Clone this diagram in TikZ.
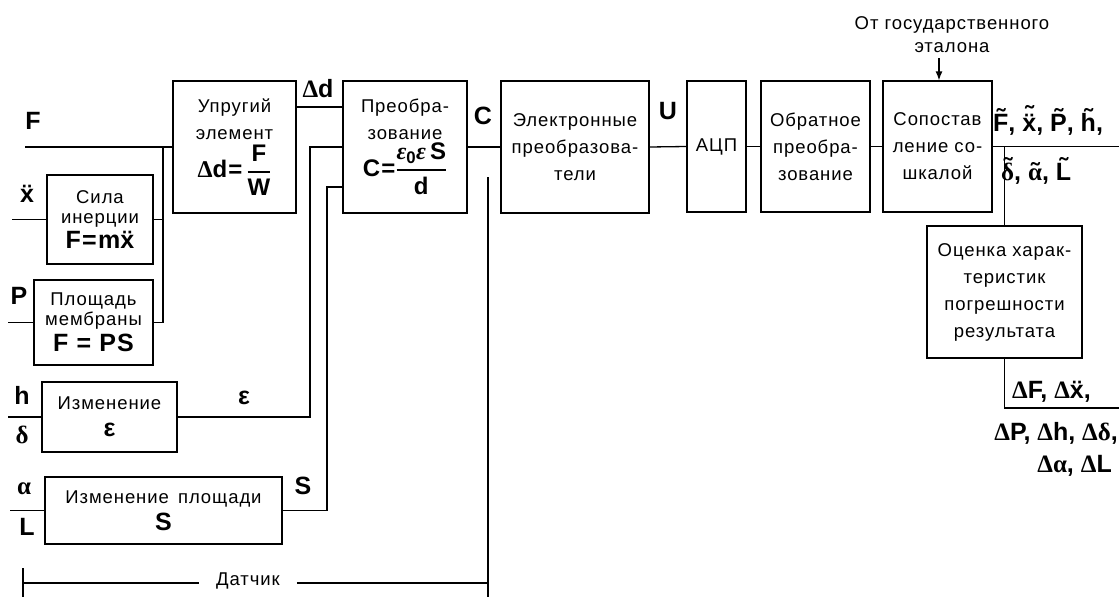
\documentclass[tikz,border=0pt]{standalone}
\usepackage{amsmath}
\usepackage{fontspec}
\setmainfont{Liberation Sans}
\newfontfamily\grk{Liberation Serif}
\newfontfamily\spaced[LetterSpace=5]{Liberation Sans}
\usetikzlibrary{arrows.meta}
\newcommand\tld[2][0.2em]{\ooalign{#2\cr\hidewidth\raisebox{#1}{˜}\hidewidth\cr}}
\newcommand\ddx{\ooalign{x\cr\hidewidth¨\hidewidth\cr}}
\newcommand\frc[2]{$\genfrac{}{}{2pt}{0}{\mbox{#1}}{\mbox{#2}}$}
\newcommand\Dl{{\grk\bfseries Δ}}
\newcommand\txt{\spaced\fontsize{18.5}{27}\selectfont}
\newcommand\lb{\bfseries\fontsize{25}{28}\selectfont}
\newcommand\fm{\bfseries\fontsize{24}{27}\selectfont}
\tikzset{
  box/.style={draw, line width=1.3pt, inner sep=0pt, align=center, font=\txt},
  lbl/.style={font=\lb, inner sep=0pt, align=center},
  wire/.style={line width=1.3pt},
}
\begin{document}
\begin{tikzpicture}[x=1pt,y=-1pt]
\fill[white] (0,0) rectangle (1119,597);
\useasboundingbox (0,0) rectangle (1119,597);

% boxes
\node[box, minimum width=123, minimum height=132] (upr) at (234.5,147)
  {Упругий\\элемент\\[4pt]{\fm\Dl d=\,\frc{F}{W}}};
\node[box, minimum width=124, minimum height=132] (preo) at (405,147)
  {Преобра-\\зование\\[2pt]{\fm C=\frc{{\grk\itshape ε}\textsubscript{0}{\grk\itshape ε}\,S}{d}}};
\node[box, minimum width=148, minimum height=132] (elec) at (575,147)
  {Электронные\\преобразова-\\тели};
\node[box, minimum width=59, minimum height=131] (adc) at (716.5,146.5) {АЦП};
\node[box, minimum width=109, minimum height=131] (obr) at (815.5,146.5)
  {Обратное\\преобра-\\зование};
\node[box, minimum width=109, minimum height=131] (sop) at (937.5,146.5)
  {Сопостав\\ление со-\\шкалой};
\node[box, minimum width=155, minimum height=132] (ots) at (1004.5,292)
  {Оценка харак-\\теристик\\погрешности\\результата};
\node[box, minimum width=106, minimum height=89, font=\spaced\fontsize{18.5}{20}\selectfont] (sila) at (100,219.5)
  {Сила\\инерции\\[3pt]{\lb F=m\ddx}};
\node[box, minimum width=119, minimum height=85, font=\spaced\fontsize{18.5}{20}\selectfont] (plo) at (93.5,322.5)
  {Площадь\\мембраны\\[4pt]{\lb F = PS}};
\node[box, minimum width=135, minimum height=70] (ize) at (109.5,417)
  {Изменение\\{\lb ε}};
\node[box, minimum width=237, minimum height=67] (izs) at (163.5,510.5)
  {Изменение\, площади\\{\lb S}};

% labels
\node[lbl] (lF) at (33,121) {F};
\node[lbl] (lx) at (27,196) {\ddx};
\node[lbl] (lP) at (19,296) {P};
\node[lbl] (lh) at (22,395) {h};
\node[lbl] (ld) at (22,435) {\grk\bfseries δ};
\node[lbl] (la) at (24,489) {\grk\bfseries α};
\node[lbl] (lL) at (27,527) {L};
\node[lbl] (ldd) at (318,89) {\Dl d};
\node[lbl] (lC) at (483,116) {C};
\node[lbl] (lU) at (668,111) {U};
\node[lbl] (le) at (244,398) {ε};
\node[lbl] (lS) at (303,486) {S};
\node[lbl, anchor=west] (out1) at (993,124) {\tld{F}, \tld[0.3em]{\ddx}, \tld{P}, \tld{h},};
\node[lbl, anchor=west] (out2) at (1001,174) {\tld{\grk\bfseries δ}, \tld[0em]{\grk\bfseries α}, \tld{L}};
\node[lbl, anchor=west] (err1) at (1012,392) {\Dl F, \Dl\ddx,};
\node[lbl, anchor=east] (err2) at (1118,433) {\Dl P, \Dl h, \Dl{\grk\bfseries δ},};
\node[lbl, anchor=east] (err3) at (1112,466) {\Dl{\grk\bfseries α}, \Dl L};
\node[font=\txt, align=center, inner sep=0pt] (etal) at (952,35) {От государственного\\[-4pt]эталона};
\node[font=\txt, inner ysep=1pt, inner xsep=17pt] (dat) at (248,581) {Датчик};

% free ends
\coordinate (fin) at (25,147);
\coordinate (bus) at (163,147);
\coordinate (xin) at (12,219.5);
\coordinate (pin) at (8,322.5);
\coordinate (hin) at (8,417);
\coordinate (ain) at (10,510.5);
\coordinate (dd) at (320,107);
\coordinate (epsx) at (310,147);
\coordinate (sx) at (327,187);
\coordinate (dtop) at (488,177);
\coordinate (dbot) at (488,597);
\coordinate (dlin) at (23,583);
\coordinate (dtk1) at (23,568);
\coordinate (dtk2) at (23,597);
\coordinate (arrt) at (939,58);
\coordinate (outR) at (1119,146.5);
\coordinate (errR) at (1119,408);

% connectors
\draw[wire] (fin) -- (fin -| upr.west);
\draw[wire] (sila.east) -- (sila.east -| bus);
\draw[wire] (plo.east) -| (bus);
\draw[wire] (xin) -- (sila.west);
\draw[wire] (pin) -- (plo.west);
\draw[wire] (hin) -- (ize.west);
\draw[wire] (ain) -- (izs.west);
\draw[wire] (upr.east |- dd) -- (preo.west |- dd);
\draw[wire] (ize.east) -| (epsx) -- (preo.west |- epsx);
\draw[wire] (izs.east) -| (sx) -- (preo.west |- sx);
\draw[wire] (preo.east) -- (elec.west);
\draw[wire] (elec.east) -- (adc.west);
\draw[wire] (adc.east) -- (obr.west);
\draw[wire] (obr.east) -- (sop.west);
\draw[wire] (sop.east) -- (outR);
\draw[wire] (sop.east -| ots.north) -- (ots.north);
\draw[wire] (ots.south) |- (errR);
\draw[wire, -{Latex[length=9pt,width=7pt]}] (arrt) -- (arrt |- sop.north);
\draw[wire] (dtop) -- (dbot);
\draw[wire] (dtk1) -- (dtk2);
\draw[wire] (dlin) -- (dat.west |- dlin);
\draw[wire] (dat.east |- dlin) -- (dlin -| dtop);
\end{tikzpicture}
\end{document}
